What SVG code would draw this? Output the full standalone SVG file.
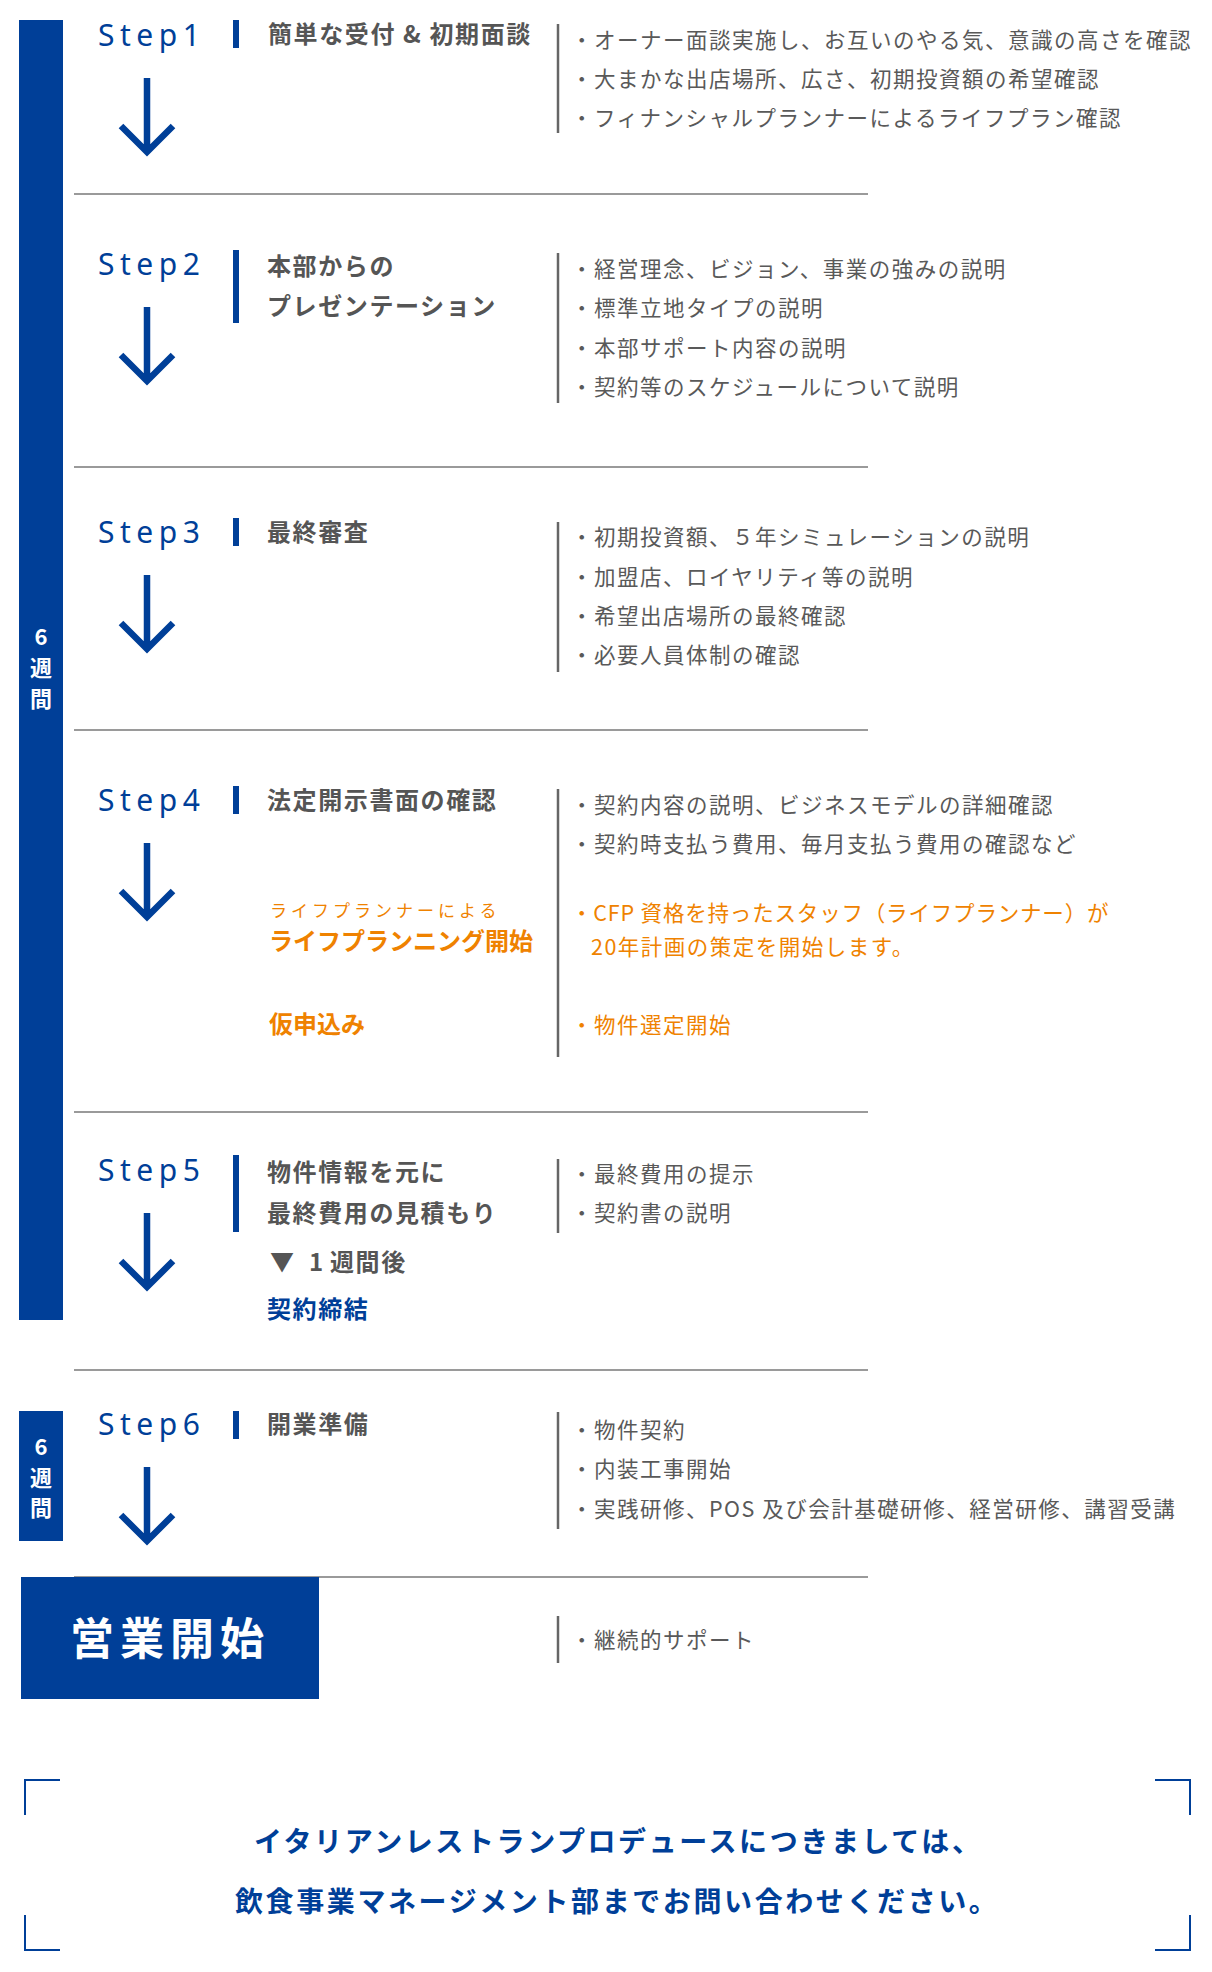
<svg xmlns="http://www.w3.org/2000/svg" width="1212" height="1972" viewBox="0 0 1212 1972">
<defs>
<style>
.bg{fill:#ffffff}
.wk{fill:#003f98}
.wkt{font-family:"Noto Sans CJK JP","Noto Sans",sans-serif;font-size:22px;font-weight:700;fill:#ffffff;text-anchor:middle}
.step{font-family:"Noto Sans","Noto Sans CJK JP",sans-serif;font-size:30px;font-weight:400;fill:#003f98;letter-spacing:5.5px}
.sbar{fill:#003f98}
.title{font-family:"Noto Sans CJK JP",sans-serif;font-size:24px;font-weight:700;fill:#555555;letter-spacing:1.6px}
.div{stroke:#666666;stroke-width:2.5;fill:none}
.sep{stroke:#9a9a9a;stroke-width:2;fill:none}
.bul{font-family:"Noto Sans CJK JP",sans-serif;font-size:21.5px;font-weight:400;fill:#595959;letter-spacing:1.5px}
.org{fill:#ef8200}
.orgs{font-family:"Noto Sans CJK JP",sans-serif;font-size:17px;font-weight:400;fill:#ef8200;letter-spacing:4px}
.orgb{font-family:"Noto Sans CJK JP",sans-serif;font-size:24px;font-weight:700;fill:#ef8200}
.blueb{font-family:"Noto Sans CJK JP",sans-serif;font-size:24px;font-weight:700;fill:#003f98;letter-spacing:1.6px}
.arrow{stroke:#003f98;stroke-width:6.5;fill:none;stroke-linejoin:miter;stroke-linecap:butt}
.open{font-family:"Noto Sans CJK JP",sans-serif;font-size:44px;font-weight:700;fill:#ffffff;letter-spacing:6px}
.brk{stroke:#003f98;stroke-width:2;fill:none}
.foot{font-family:"Noto Sans CJK JP",sans-serif;font-size:28px;font-weight:700;fill:#003f98;letter-spacing:2.6px}
</style>
<path id="arr" d="M0 -79 V-5 M-26 -31 L0 -5 L26 -31"/>
</defs>
<rect class="bg" x="0" y="0" width="1212" height="1972"/>

<g id="separators">
<line class="sep" x1="74" y1="194" x2="868" y2="194"/>
<line class="sep" x1="74" y1="467" x2="868" y2="467"/>
<line class="sep" x1="74" y1="730" x2="868" y2="730"/>
<line class="sep" x1="74" y1="1112" x2="868" y2="1112"/>
<line class="sep" x1="74" y1="1370" x2="868" y2="1370"/>
<line class="sep" x1="74" y1="1577" x2="868" y2="1577"/>
</g>

<g id="period1">
<rect class="wk" x="19" y="20" width="44" height="1300"/>
<text class="wkt" x="41" y="645">6</text>
<text class="wkt" x="41" y="676">週</text>
<text class="wkt" x="41" y="707">間</text>
</g>

<g id="period2">
<rect class="wk" x="19" y="1411" width="44" height="130"/>
<text class="wkt" x="41" y="1455">6</text>
<text class="wkt" x="41" y="1486">週</text>
<text class="wkt" x="41" y="1516">間</text>
</g>

<g id="step1">
<text class="step" x="98" y="46">Step1</text>
<rect class="sbar" x="233" y="20" width="6" height="28"/>
<text class="title" x="268" y="43">簡単な受付 &amp; 初期面談</text>
<line class="div" x1="558" y1="24" x2="558" y2="133"/>
<text class="bul" x="571" y="48">・オーナー面談実施し、お互いのやる気、意識の高さを確認</text>
<text class="bul" x="571" y="87">・大まかな出店場所、広さ、初期投資額の希望確認</text>
<text class="bul" x="571" y="126">・フィナンシャルプランナーによるライフプラン確認</text>
</g>

<g id="step2">
<text class="step" x="98" y="275">Step2</text>
<rect class="sbar" x="233" y="250" width="6" height="73"/>
<text class="title" x="267" y="275">本部からの</text>
<text class="title" x="267" y="315">プレゼンテーション</text>
<line class="div" x1="558" y1="253" x2="558" y2="403"/>
<text class="bul" x="571" y="277">・経営理念、ビジョン、事業の強みの説明</text>
<text class="bul" x="571" y="316">・標準立地タイプの説明</text>
<text class="bul" x="571" y="356">・本部サポート内容の説明</text>
<text class="bul" x="571" y="395">・契約等のスケジュールについて説明</text>
</g>

<g id="step3">
<text class="step" x="98" y="543">Step3</text>
<rect class="sbar" x="233" y="518" width="6" height="28"/>
<text class="title" x="267" y="541">最終審査</text>
<line class="div" x1="558" y1="522" x2="558" y2="672"/>
<text class="bul" x="571" y="545">・初期投資額、５年シミュレーションの説明</text>
<text class="bul" x="571" y="585">・加盟店、ロイヤリティ等の説明</text>
<text class="bul" x="571" y="624">・希望出店場所の最終確認</text>
<text class="bul" x="571" y="663">・必要人員体制の確認</text>
</g>

<g id="step4">
<text class="step" x="98" y="811">Step4</text>
<rect class="sbar" x="233" y="786" width="6" height="28"/>
<text class="title" x="267" y="809">法定開示書面の確認</text>
<text class="orgs" x="270" y="917">ライフプランナーによる</text>
<text class="orgb" x="269" y="950">ライフプランニング開始</text>
<text class="orgb" x="269" y="1033">仮申込み</text>
<line class="div" x1="558" y1="789" x2="558" y2="1057"/>
<text class="bul" x="571" y="813">・契約内容の説明、ビジネスモデルの詳細確認</text>
<text class="bul" x="571" y="852">・契約時支払う費用、毎月支払う費用の確認など</text>
<text class="bul org" x="571" y="921" textLength="539" lengthAdjust="spacing">・CFP 資格を持ったスタッフ（ライフプランナー）が</text>
<text class="bul org" x="591" y="955">20年計画の策定を開始します。</text>
<text class="bul org" x="571" y="1033">・物件選定開始</text>
</g>

<g id="step5">
<text class="step" x="98" y="1181">Step5</text>
<rect class="sbar" x="233" y="1155" width="6" height="77"/>
<text class="title" x="267" y="1181">物件情報を元に</text>
<text class="title" x="267" y="1222">最終費用の見積もり</text>
<text class="title" x="270" y="1271">▼</text>
<text class="title" x="309" y="1271">1</text>
<text class="title" x="330" y="1271">週間後</text>
<text class="blueb" x="267" y="1318">契約締結</text>
<line class="div" x1="558" y1="1159" x2="558" y2="1233"/>
<text class="bul" x="571" y="1182">・最終費用の提示</text>
<text class="bul" x="571" y="1221">・契約書の説明</text>
</g>

<g id="step6">
<text class="step" x="98" y="1435">Step6</text>
<rect class="sbar" x="233" y="1411" width="6" height="28"/>
<text class="title" x="267" y="1433">開業準備</text>
<line class="div" x1="558" y1="1412" x2="558" y2="1529"/>
<text class="bul" x="571" y="1438">・物件契約</text>
<text class="bul" x="571" y="1477">・内装工事開始</text>
<text class="bul" x="571" y="1517">・実践研修、POS 及び会計基礎研修、経営研修、講習受講</text>
</g>

<g id="open">
<rect class="wk" x="21" y="1577" width="298" height="122"/>
<text class="open" x="70" y="1655">営業開始</text>
<line class="div" x1="558" y1="1616" x2="558" y2="1663"/>
<text class="bul" x="571" y="1648">・継続的サポート</text>
</g>

<g id="connectors">
<use href="#arr" class="arrow" transform="translate(147 157)"/>
<use href="#arr" class="arrow" transform="translate(147 386)"/>
<use href="#arr" class="arrow" transform="translate(147 654)"/>
<use href="#arr" class="arrow" transform="translate(147 922)"/>
<use href="#arr" class="arrow" transform="translate(147 1292)"/>
<use href="#arr" class="arrow" transform="translate(147 1546)"/>
</g>

<g id="contact">
<path class="brk" d="M60 1780 H25 V1815"/>
<path class="brk" d="M25 1915 V1950 H60"/>
<path class="brk" d="M1155 1780 H1190 V1815"/>
<path class="brk" d="M1190 1915 V1950 H1155"/>
<text class="foot" x="254" y="1852">イタリアンレストランプロデュースにつきましては、</text>
<text class="foot" x="235" y="1912">飲食事業マネージメント部までお問い合わせください。</text>
</g>
</svg>
